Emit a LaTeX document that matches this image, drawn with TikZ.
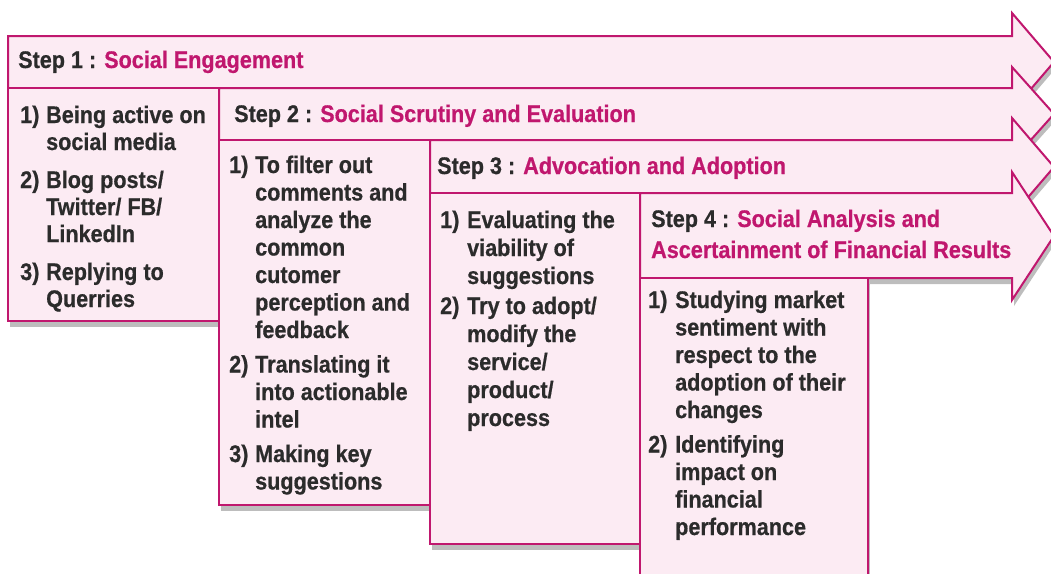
\documentclass[tikz,border=0pt]{standalone}
\usepackage{fontspec}
\setmainfont[FakeStretch=0.9,BoldFeatures={FakeBold=0.6}]{Liberation Sans}
\usetikzlibrary{shadows}
\definecolor{mag}{HTML}{C0176E}
\definecolor{pinkfill}{HTML}{FCEBF3}
\definecolor{txt}{HTML}{2B2B2B}
\newcommand\stepttl[2]{{\color{txt}Step #1 : }{\color{mag}#2}}
\tikzset{
  stepshape/.style={draw=mag, line width=2pt, fill=pinkfill, line join=miter,
    drop shadow={shadow xshift=2pt, shadow yshift=-6pt, opacity=0.4, fill=black!65}},
  ttl/.style={anchor=base west, inner sep=0pt, text=txt, font=\fontsize{24}{31}\selectfont\bfseries},
  lst/.style={anchor=base west, inner sep=0pt, text=txt, align=left},
}
\begin{document}
\begin{tikzpicture}[x=1pt,y=-1pt]
\useasboundingbox (0,0) rectangle (1051,573);
% Step 1
\draw[stepshape] (8,36) -- (1012,36) -- (1012,13) -- (1054,62) -- (1012,111) -- (1012,88) -- (8,88) -- cycle;
\draw[stepshape] (8,88) rectangle (219,321);
\node[ttl] (t1) at (18,68) {\stepttl{1}{Social Engagement}};
\node[lst] (l1) at (20,123) {\fontsize{24}{27}\selectfont\bfseries
  \begin{tabular}[t]{@{}p{26pt}@{}l@{}}
  1) & Being active on\\ & social media\\[11pt]
  2) & Blog posts/\\ & Twitter/ FB/\\ & LinkedIn\\[11pt]
  3) & Replying to\\ & Querries
  \end{tabular}};
% Step 2
\draw[stepshape] (219,88) -- (1012,88) -- (1012,67) -- (1054,114) -- (1012,161) -- (1012,140) -- (219,140) -- cycle;
\draw[stepshape] (219,140) rectangle (430,505);
\node[ttl] (t2) at (234,122) {\stepttl{2}{Social Scrutiny and Evaluation}};
\node[lst] (l2) at (229,173) {\fontsize{24}{27.5}\selectfont\bfseries
  \begin{tabular}[t]{@{}p{26pt}@{}l@{}}
  1) & To filter out\\ & comments and\\ & analyze the\\ & common\\ & cutomer\\ & perception and\\ & feedback\\[7pt]
  2) & Translating it\\ & into actionable\\ & intel\\[7pt]
  3) & Making key\\ & suggestions
  \end{tabular}};
% Step 3
\draw[stepshape] (430,140) -- (1012,140) -- (1012,118) -- (1054,167) -- (1012,216) -- (1012,193) -- (430,193) -- cycle;
\draw[stepshape] (430,193) rectangle (640,544);
\node[ttl] (t3) at (437,174) {\stepttl{3}{Advocation and Adoption}};
\node[lst] (l3) at (440,228) {\fontsize{24}{28}\selectfont\bfseries
  \begin{tabular}[t]{@{}p{27pt}@{}l@{}}
  1) & Evaluating the\\ & viability of\\ & suggestions\\[2pt]
  2) & Try to adopt/\\ & modify the\\ & service/\\ & product/\\ & process
  \end{tabular}};
% Step 4
\draw[stepshape] (640,193) -- (1012,193) -- (1012,172) -- (1054,236) -- (1012,300) -- (1012,278) -- (640,278) -- cycle;
\draw[stepshape] (640,278) rectangle (868,590);
\node[ttl] (t4) at (651,227) {\begin{tabular}[t]{@{}l@{}}
  \stepttl{4}{Social Analysis and}\\
  {\color{mag}Ascertainment of Financial Results}
  \end{tabular}};
\node[lst] (l4) at (648,308) {\fontsize{24}{27.5}\selectfont\bfseries
  \begin{tabular}[t]{@{}p{27pt}@{}l@{}}
  1) & Studying market\\ & sentiment with\\ & respect to the\\ & adoption of their\\ & changes\\[7pt]
  2) & Identifying\\ & impact on\\ & financial\\ & performance
  \end{tabular}};
\end{tikzpicture}
\end{document}
